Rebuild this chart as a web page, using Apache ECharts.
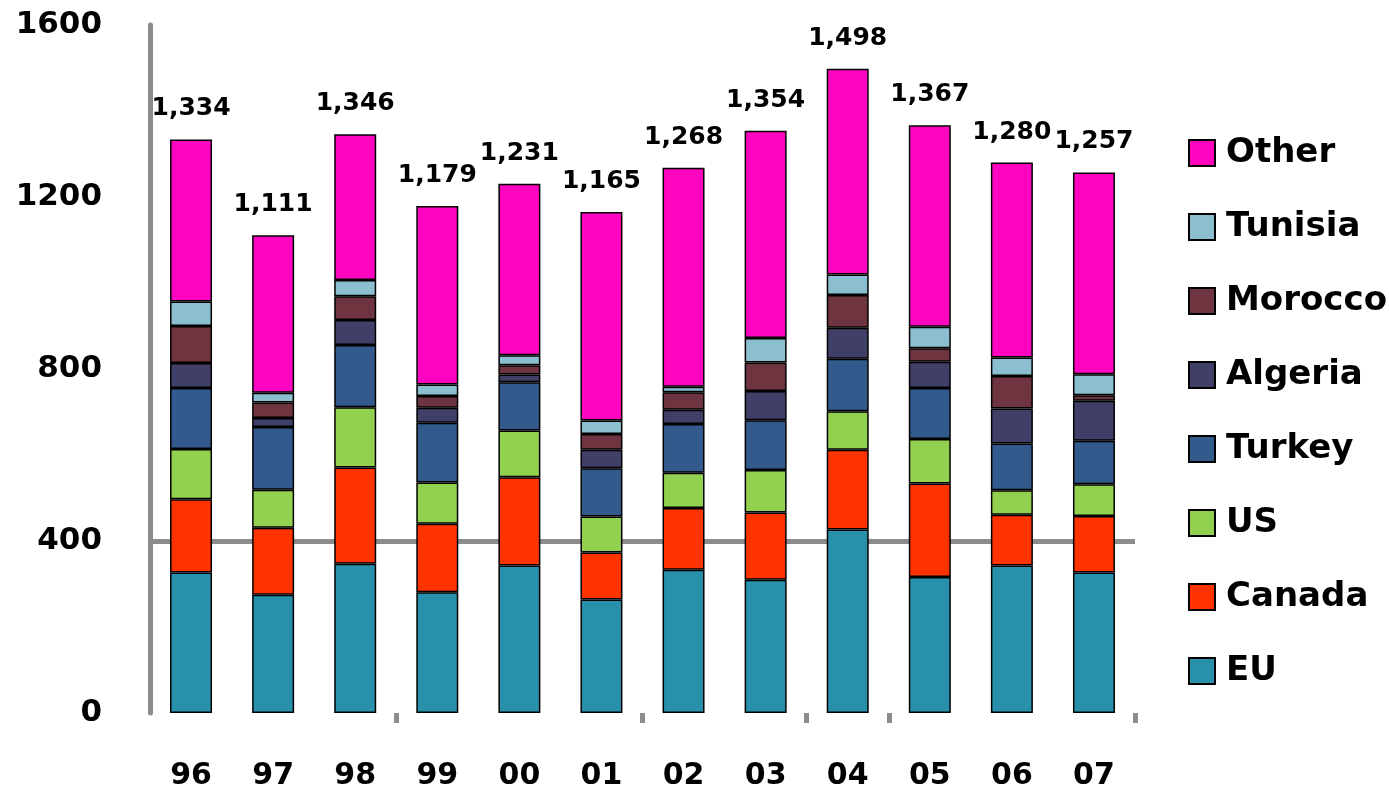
<!DOCTYPE html>
<html>
<head>
<meta charset="utf-8">
<script src="https://cdn.jsdelivr.net/npm/echarts@6/dist/echarts.min.js"></script>
<style>
  html, body { margin: 0; padding: 0; background: #fff; }
  #main { width: 1389px; height: 801px; }
</style>
</head>
<body>
<div id="main"></div>
<script>
// years on the x axis
var years = ['96', '97', '98', '99', '00', '01', '02', '03', '04', '05', '06', '07'];

// stacked values, bottom to top
var eu      = [327, 275, 347, 281, 343, 264, 333, 310, 427, 316, 343, 327];
var canada  = [170, 156, 224, 159, 205, 109, 144, 156, 185, 218, 118, 131];
var us      = [117,  88, 140,  96, 109,  84,  82,  99,  90, 103,  57,  74];
var turkey  = [142, 146, 145, 139, 112, 112, 113, 116, 122, 119, 109, 101];
var algeria = [ 58,  21,  58,  35,  18,  43,  33,  68,  72,  61,  81,  93];
var morocco = [ 86,  36,  55,  27,  22,  37,  41,  66,  76,  31,  76,  13];
var tunisia = [ 57,  23,  38,  27,  23,  31,  13,  57,  48,  50,  43,  49];
var other   = [377, 366, 339, 415, 399, 485, 509, 482, 478, 469, 453, 469];

// totals printed above the bars
var totals = ['1,334', '1,111', '1,346', '1,179', '1,231', '1,165', '1,268', '1,354', '1,498', '1,367', '1,280', '1,257'];

var yTicks = [0, 400, 800, 1200, 1600];

var font = 'DejaVu Sans';
var names = ['EU', 'Canada', 'US', 'Turkey', 'Algeria', 'Morocco', 'Tunisia', 'Other'];
var values = [eu, canada, us, turkey, algeria, morocco, tunisia, other];
var colors = ['#2990ab', '#ff3300', '#92d050', '#325a8c', '#403f68', '#6e3440', '#8bbfd0', '#ff05bf'];

var series = names.map(function (name, i) {
    var s = {
        name: name,
        type: 'bar',
        stack: 'total',
        barWidth: 42,
        data: values[i],
        itemStyle: {
            color: colors[i],
            borderColor: '#000',
            borderWidth: 1.5
        }
    };
    if (name === 'Other') {
        s.label = {
            show: true,
            position: 'top',
            distance: 18,
            fontFamily: font,
            fontWeight: 'bold',
            fontSize: 25,
            color: '#000',
            formatter: function (p) { return totals[p.dataIndex]; }
        };
    }
    return s;
});

var myChart = echarts.init(document.getElementById('main'));

myChart.setOption({
    animation: false,
    backgroundColor: '#fff',
    grid: { left: 150, right: 254, top: 25, bottom: 88 },
    legend: {
        orient: 'vertical',
        left: 1183,
        top: 131,
        data: names.slice().reverse(),
        itemWidth: 26,
        itemHeight: 26,
        itemGap: 40,
        icon: 'rect',
        textStyle: {
            fontFamily: font,
            fontWeight: 'bold',
            fontSize: 34,
            lineHeight: 34,
            color: '#000',
            padding: [0, 0, 0, 6]
        }
    },
    xAxis: {
        type: 'category',
        data: years,
        axisLine: { show: false },
        axisTick: {
            show: true,
            length: 10,
            interval: function (index) { return index === 3 || index === 6 || index === 8 || index === 9; },
            lineStyle: { color: '#8c8c8c', width: 5 }
        },
        axisLabel: {
            margin: 48,
            fontFamily: font,
            fontWeight: 'bold',
            fontSize: 30,
            color: '#000'
        }
    },
    yAxis: {
        type: 'value',
        min: yTicks[0],
        max: yTicks[yTicks.length - 1],
        interval: 400,
        axisLine: { show: true, lineStyle: { color: '#8c8c8c', width: 5 } },
        axisTick: { show: false },
        axisLabel: {
            margin: 48,
            fontFamily: font,
            fontWeight: 'bold',
            fontSize: 31,
            color: '#000',
            formatter: function (v) { return String(v); }
        },
        splitLine: {
            show: true,
            // only the 400 line is drawn
            lineStyle: {
                width: 5,
                color: ['rgba(0,0,0,0)', '#8c8c8c', 'rgba(0,0,0,0)', 'rgba(0,0,0,0)', 'rgba(0,0,0,0)']
            }
        }
    },
    series: series
});
</script>
</body>
</html>
